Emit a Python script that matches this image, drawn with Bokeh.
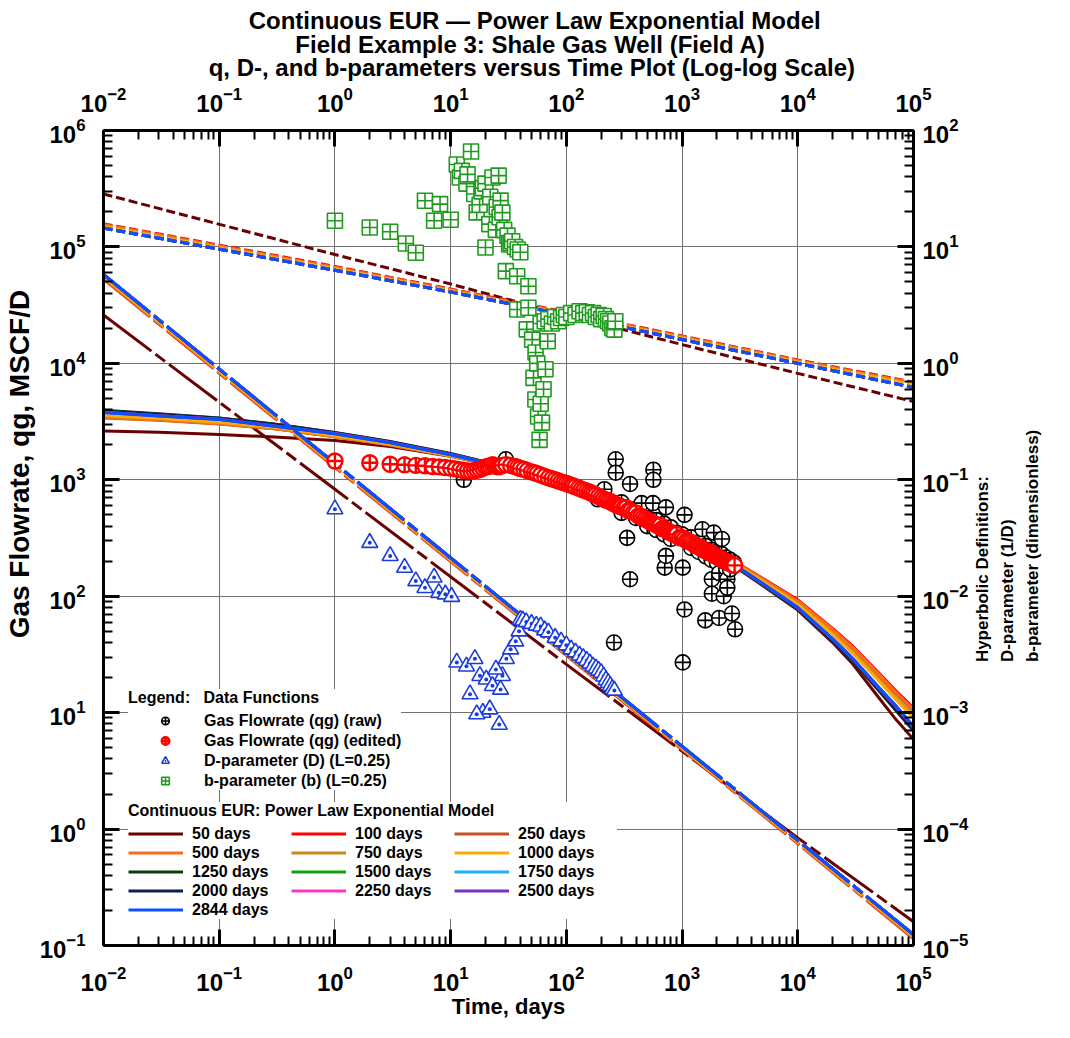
import math
from bokeh.plotting import figure
from bokeh.models import (Range1d, LogAxis, LogScale, FixedTicker, Legend, LegendItem, Title)
from bokeh.embed import file_html
from bokeh.resources import INLINE

# ---------------- model curves ----------------
model_labels = ["50 days", "100 days", "250 days", "500 days", "750 days", "1000 days",
                "1250 days", "1500 days", "1750 days", "2000 days", "2250 days", "2500 days", "2844 days"]
model_colors = ["#6b0000", "#ff0000", "#c8501e", "#ff6a1e", "#c88a1e", "#ffaa00",
                "#0b3a0b", "#10a010", "#20b0ff", "#0b1f55", "#ff33cc", "#7b2fbe", "#0a50ff"]

t_q = [0.01, 0.03, 0.1, 0.3, 1, 3, 10, 30, 100, 300, 1000, 2844, 5000, 10000, 20000, 30000, 50000, 70000, 100000]
q_50 = [2630, 2560, 2450, 2330, 2170, 1930, 1590, 1320, 950, 600, 335, 180, 123, 76, 40, 26, 13.5, 8.8, 5.9]
q_100 = [3450, 3280, 3050, 2760, 2350, 1990, 1600, 1260, 905, 600, 355, 200, 142, 93, 53, 37, 22, 15.5, 11]
q_250 = [3400, 3240, 3020, 2740, 2340, 1985, 1595, 1258, 900, 596, 351, 197, 139, 90, 51, 35.5, 21, 14.7, 10.4]
q_500 = [3420, 3255, 3035, 2750, 2345, 1988, 1597, 1259, 901, 597, 352, 198, 140, 91, 52, 36, 21.5, 15, 10.7]
q_750 = [3500, 3320, 3080, 2790, 2370, 2010, 1605, 1262, 898, 591, 346, 194, 136, 87, 48.5, 33, 19.5, 13.5, 9.5]
q_1000 = [3560, 3370, 3120, 2820, 2390, 2025, 1612, 1265, 897, 588, 342, 192, 134, 85, 47, 32, 18.8, 13, 9.0]
q_1250 = [3950, 3700, 3400, 3020, 2550, 2130, 1680, 1290, 893, 578, 330, 183, 125, 77, 41, 27.5, 15.5, 10.5, 7.0]
q_1500 = [3870, 3630, 3360, 2990, 2520, 2110, 1665, 1283, 893, 580, 332, 184, 126, 78, 42, 28, 16, 11, 7.2]
q_1750 = [3820, 3560, 3320, 2920, 2500, 2095, 1655, 1278, 892, 580, 333, 185, 127, 79, 42.5, 28.5, 16.2, 11.2, 7.4]
q_2000 = [3900, 3660, 3380, 3000, 2535, 2120, 1672, 1286, 893, 579, 331, 184, 125.5, 77.5, 41.5, 28, 15.8, 10.8, 7.1]
q_2250 = [3800, 3550, 3310, 2900, 2495, 2090, 1650, 1275, 892, 580, 334, 185.5, 127.5, 79.5, 42.8, 28.8, 16.4, 11.4, 7.5]
q_2500 = [3790, 3540, 3305, 2890, 2490, 2085, 1645, 1272, 891, 580, 334, 186, 128, 80, 43, 29, 16.5, 11.5, 7.6]
q_2844 = [3780, 3530, 3300, 2880, 2480, 2077, 1640, 1270, 890, 580, 335, 186, 128, 80, 43, 29, 16.5, 11.5, 7.6]

t_d = [0.01, 1, 100, 10000, 100000]
D_50 = [2.6, 0.083, 2.6e-3, 8.4e-5, 1.6e-5]
D_100 = [5.3, 0.128, 3.1e-3, 7.5e-5, 1.14e-5]
D_250 = [5.35, 0.129, 3.12e-3, 7.55e-5, 1.15e-5]
D_500 = [5.4, 0.130, 3.14e-3, 7.6e-5, 1.16e-5]
D_750 = [5.5, 0.132, 3.18e-3, 7.7e-5, 1.18e-5]
D_1000 = [5.55, 0.133, 3.2e-3, 7.75e-5, 1.19e-5]
D_1250 = [5.8, 0.138, 3.3e-3, 8.0e-5, 1.24e-5]
D_1500 = [5.78, 0.1378, 3.3e-3, 8.0e-5, 1.24e-5]
D_1750 = [5.76, 0.1375, 3.29e-3, 7.98e-5, 1.235e-5]
D_2000 = [5.8, 0.138, 3.3e-3, 8.0e-5, 1.24e-5]
D_2250 = [5.77, 0.1376, 3.29e-3, 7.99e-5, 1.238e-5]
D_2500 = [5.79, 0.1379, 3.3e-3, 8.0e-5, 1.24e-5]
D_2844 = [5.8, 0.138, 3.3e-3, 8.0e-5, 1.24e-5]

t_b = [0.01, 1, 10, 100, 1000, 10000, 100000]
b_50 = [28.5, 8.6, 4.8, 2.6, 1.45, 0.82, 0.47]
b_100 = [15.8, 6.8, 4.35, 2.75, 1.72, 1.07, 0.69]
b_250 = [15.6, 6.7, 4.3, 2.72, 1.70, 1.06, 0.68]
b_500 = [15.5, 6.65, 4.28, 2.70, 1.69, 1.05, 0.675]
b_750 = [15.2, 6.55, 4.22, 2.67, 1.67, 1.04, 0.665]
b_1000 = [15.0, 6.5, 4.2, 2.65, 1.65, 1.03, 0.655]
b_1250 = [14.5, 6.3, 4.1, 2.6, 1.6, 1.0, 0.62]
b_1500 = [14.55, 6.32, 4.1, 2.6, 1.6, 1.0, 0.622]
b_1750 = [14.6, 6.33, 4.11, 2.61, 1.61, 1.0, 0.625]
b_2000 = [14.5, 6.3, 4.1, 2.6, 1.6, 1.0, 0.62]
b_2250 = [14.55, 6.31, 4.1, 2.6, 1.6, 1.0, 0.621]
b_2500 = [14.5, 6.3, 4.1, 2.6, 1.6, 1.0, 0.62]
b_2844 = [14.5, 6.3, 4.1, 2.6, 1.6, 1.0, 0.62]

q_models = [q_50, q_100, q_250, q_500, q_750, q_1000, q_1250, q_1500, q_1750, q_2000, q_2250, q_2500, q_2844]
D_models = [D_50, D_100, D_250, D_500, D_750, D_1000, D_1250, D_1500, D_1750, D_2000, D_2250, D_2500, D_2844]
b_models = [b_50, b_100, b_250, b_500, b_750, b_1000, b_1250, b_1500, b_1750, b_2000, b_2250, b_2500, b_2844]

# ---------------- data functions ----------------
edited_t = [1, 2, 3, 4, 5, 6, 7, 8, 9, 10, 11, 12, 13, 14, 15, 16, 17, 18, 19, 20, 21, 22, 23, 24, 25,
            26, 27, 28, 30, 33, 36, 38, 40, 43, 46, 50, 53, 56, 60, 65, 70, 75, 80, 85, 90, 95, 100,
            105, 110, 115, 120, 128, 135, 142, 150, 158, 165, 172, 180, 190, 200, 210, 220, 230, 240,
            250, 260, 270, 280, 290, 300, 315, 330, 345, 360, 380, 400, 420, 440, 460, 480, 500, 520,
            540, 560, 580, 600, 625, 650, 675, 700, 725, 750, 775, 800, 825, 850, 875, 900, 950, 1000,
            1050, 1100, 1150, 1200, 1250, 1300, 1350, 1400, 1450, 1500, 1550, 1600, 1650, 1700, 1750,
            1800, 1850, 1900, 1950, 2000, 2050, 2100, 2150, 2200, 2250, 2300, 2350, 2400, 2450, 2500,
            2550, 2600, 2650, 2700, 2750, 2800, 2844]
edited_q = [1450, 1400, 1360, 1345, 1330, 1320, 1300, 1290, 1275, 1260, 1240, 1220, 1200, 1190, 1185,
            1195, 1210, 1230, 1260, 1290, 1300, 1320, 1350, 1330, 1300, 1290, 1310, 1330, 1350, 1330,
            1300, 1280, 1250, 1230, 1200, 1170, 1150, 1130, 1100, 1070, 1040, 1020, 1000, 980, 960,
            945, 930, 915, 900, 885, 870, 850, 830, 815, 800, 785, 770, 755, 740, 720, 700, 685, 670,
            660, 650, 635, 620, 610, 600, 592, 585, 572, 575, 545, 540, 525, 520, 490, 485, 472, 460,
            450, 440, 432, 425, 418, 410, 402, 405, 380, 380, 372, 365, 357, 350, 345, 340, 335, 340,
            318, 318, 310, 300, 295, 290, 282, 275, 270, 265, 260, 255, 250, 245, 243, 240, 236, 232,
            228, 225, 222, 220, 216, 213, 210, 208, 205, 203, 200, 198, 196, 195, 193, 192, 190, 188,
            186, 185, 184]

raw_t = [13, 30, 187, 213, 267, 267, 300, 300, 335, 355, 355, 258, 400, 400, 447, 500, 500, 560, 565,
         565, 600, 600, 700, 700, 708, 725, 725, 800, 800, 900, 1000, 1014, 1014, 1050, 1050, 1200,
         1200, 1400, 1400, 1500, 1500, 1587, 1600, 1600, 1800, 1800, 1810, 1810, 1880, 2000, 2000,
         2090, 2090, 2200, 2213, 2290, 2400, 2400, 2460, 2460, 2600, 2600, 2700, 2800, 2870]
raw_q = [1000, 1500, 680, 830, 1500, 1150, 640, 520, 317, 920, 140, 40, 560, 470, 630, 470, 400, 630,
         1220, 1000, 450, 370, 420, 340, 176, 580, 222, 390, 310, 350, 340, 176, 27, 77, 500, 320, 260,
         290, 240, 376, 252, 62, 270, 220, 250, 205, 140, 105, 352, 240, 195, 158, 65, 230, 310, 100,
         215, 175, 140, 118, 205, 170, 71, 195, 52]

dparam_t = [1, 2, 3, 4, 5, 6, 7.2, 7.9, 9, 10.2, 11.3, 13.7, 16.2, 14.7, 17.9, 20.3, 23, 27, 28, 24.6,
            19, 21.8, 26.3, 16.8, 30.3, 33, 36.5, 39, 40, 42, 45, 50, 55, 60, 65, 70, 80, 90, 100, 110,
            120, 130, 140, 150, 160, 170, 180, 190, 200, 210, 220, 230, 240, 250, 260]
dparam_v = [0.0559, 0.0288, 0.0222, 0.0176, 0.0135, 0.0118, 0.0145, 0.0107, 0.0104, 0.0099, 2.7e-3,
            2.5e-3, 2.9e-3, 1.44e-3, 2.07e-3, 1.93e-3, 1.7e-3, 1.58e-3, 2.07e-3, 2.35e-3, 1.0e-3,
            1.07e-3, 7.9e-4, 9.7e-4, 2.9e-3, 3.5e-3, 4.1e-3, 5.0e-3, 6.3e-3, 6.2e-3, 6.0e-3, 5.8e-3,
            5.6e-3, 5.5e-3, 5.1e-3, 4.9e-3, 4.4e-3, 4.1e-3, 3.8e-3, 3.5e-3, 3.3e-3, 3.1e-3, 2.95e-3,
            2.8e-3, 2.65e-3, 2.5e-3, 2.4e-3, 2.3e-3, 2.2e-3, 2.05e-3, 1.9e-3, 1.8e-3, 1.7e-3, 1.6e-3,
            1.55e-3]

bparam_t = [1, 2, 3, 4.1, 5, 6, 7.2, 8.1, 10, 11.3, 12, 12.5, 13.7, 14, 15, 16, 16.8, 17.8, 18.5, 19,
            20, 20, 21.6, 22, 23, 24.6, 25, 26, 26.5, 27, 28, 29, 30, 31, 32, 33, 34, 36, 37.6, 37.6,
            38, 40, 45.5, 47, 47, 50.6, 52, 54, 54.2, 56, 57, 58.7, 60, 61.5, 63.5, 66, 69, 60, 65, 70,
            75, 80, 85, 90, 95, 100, 110, 120, 130, 140, 150, 160, 170, 180, 190, 200, 210, 220, 230,
            240, 250, 260, 265]
bparam_v = [16.8, 14.7, 13.5, 10.7, 8.9, 24.9, 16.8, 23.3, 17.1, 51, 39.5, 45, 35, 42, 66, 28.5, 19.8,
            23, 30, 32, 35, 9.9, 15.7, 27, 39.5, 14, 22, 41, 18, 25, 19.7, 14, 6.2, 12.5, 10.5, 10.8,
            11.2, 10, 5.6, 2.9, 9.5, 9, 1.96, 4.6, 3.0, 1.6, 0.75, 0.49, 1.24, 1.0, 0.35, 0.22, 0.45,
            0.31, 0.6, 0.89, 1.55, 2.2, 2.3, 2.4, 2.2, 2.5, 2.3, 2.45, 2.6, 2.5, 2.7, 2.6, 2.8, 2.7,
            2.75, 2.6, 2.7, 2.5, 2.6, 2.4, 2.55, 2.4, 2.3, 2.2, 2.0, 1.95, 2.3]

# ---------------- axis ticks ----------------
x_major = [10.0 ** k for k in range(-2, 6)]
x_minor = [m * 10.0 ** k for k in range(-2, 5) for m in range(2, 10)]
yl_major = [10.0 ** k for k in range(-1, 7)]
yl_minor = [m * 10.0 ** k for k in range(-1, 6) for m in range(2, 10)]
yr_major = [10.0 ** k for k in range(-5, 3)]
yr_minor = [m * 10.0 ** k for k in range(-5, 2) for m in range(2, 10)]

title_lines = ["Continuous EUR \u2014 Power Law Exponential Model",
               "Field Example 3: Shale Gas Well (Field A)",
               "q, D-, and b-parameters versus Time Plot (Log-log Scale)"]
right_title_lines = ["Hyperbolic Definitions:", "D-parameter (1/D)", "b-parameter (dimensionless)"]

FONT = "Liberation Sans"
NB = "\u00a0"
ML, MR, MT, MB = 99, 130, 130, 77
FRAME_W, FRAME_H = 825, 815

p = figure(width=ML + FRAME_W + MR, height=MT + FRAME_H + MB,
           x_axis_type="log", y_axis_type="log",
           x_range=Range1d(1e-2, 1e5), y_range=Range1d(1e-1, 1e6),
           output_backend="svg", toolbar_location=None,
           min_border_left=ML, min_border_right=MR, min_border_top=MT, min_border_bottom=MB)
p.extra_y_ranges = {"right": Range1d(1e-5, 1e2)}
p.extra_y_scales = {"right": LogScale()}
p.outline_line_color = None
p.background_fill_color = "white"
p.border_fill_color = "white"


def style_axis(ax, ticks, minor, standoff):
    ax.ticker = FixedTicker(ticks=ticks, minor_ticks=minor)
    ax.axis_line_width = 3
    ax.axis_line_color = "black"
    ax.major_tick_in = 16
    ax.major_tick_out = 0
    ax.major_tick_line_width = 3
    ax.minor_tick_in = 9
    ax.minor_tick_out = 0
    ax.minor_tick_line_width = 2
    ax.major_label_text_font = FONT
    ax.major_label_text_font_style = "bold"
    ax.major_label_text_font_size = "24px"
    ax.major_label_text_color = "black"
    ax.major_label_standoff = standoff
    ax.axis_label_text_font = FONT
    ax.axis_label_text_font_style = "bold"
    ax.axis_label_text_color = "black"


bottom_ax = p.below[0]
style_axis(bottom_ax, x_major, x_minor, 20)
bottom_ax.axis_label = "Time, days"
bottom_ax.axis_label_text_font_size = "22px"
bottom_ax.axis_label_standoff = 0

left_ax = p.left[0]
style_axis(left_ax, yl_major, yl_minor, 18)
left_ax.axis_label = NB * 19 + "Gas Flowrate, qg, MSCF/D"
left_ax.axis_label_text_font_size = "28px"
left_ax.axis_label_standoff = 2

top_ax = LogAxis()
style_axis(top_ax, x_major, x_minor, 19)
p.add_layout(top_ax, "above")

right_ax = LogAxis(y_range_name="right")
style_axis(right_ax, yr_major, yr_minor, 9)
p.add_layout(right_ax, "right")

# bare axes on the right that only carry the three lines of the right axis title
for line, sd in zip(right_title_lines, [11, 3, 3]):
    ax = LogAxis(y_range_name="right", ticker=FixedTicker(ticks=[]))
    ax.axis_line_color = None
    ax.major_tick_line_color = None
    ax.minor_tick_line_color = None
    ax.major_tick_in = 0
    ax.major_tick_out = 0
    ax.minor_tick_in = 0
    ax.minor_tick_out = 0
    ax.major_label_standoff = 0
    ax.axis_label_text_font = FONT
    ax.axis_label_text_font_style = "bold"
    ax.axis_label_text_font_size = "17px"
    ax.axis_label_text_color = "black"
    ax.axis_label_standoff = sd
    props = ax.properties()
    pad = ""
    if "axis_label_align" in props:
        ax.axis_label_align = "start"
        pad = NB * 60
    if "axis_label_orientation" in props:
        ax.axis_label_orientation = math.pi / 2
    ax.axis_label = pad + line
    p.add_layout(ax, "right")


# centre each title line inside the block with no-break spaces (block nudged right)
def em_w(s):
    W = {' ': 278, ',': 278, '-': 333, '.': 278, '/': 278, '(': 333, ')': 333, ':': 333, '\u2014': 1000,
         'A': 722, 'C': 722, 'D': 722, 'E': 667, 'F': 611, 'G': 778, 'L': 611, 'M': 833, 'P': 667,
         'R': 722, 'S': 667, 'T': 611, 'U': 722, 'W': 944, 'a': 556, 'b': 611, 'c': 556, 'd': 611,
         'e': 556, 'g': 611, 'h': 611, 'i': 278, 'l': 278, 'm': 889, 'n': 611, 'o': 611, 'p': 611,
         'q': 611, 'r': 389, 's': 556, 't': 333, 'u': 611, 'v': 556, 'w': 778, 'x': 556, 'y': 556}
    return sum(W.get(c, 556) for c in s)


widest = max(em_w(s) for s in title_lines)
centred = [NB * (7 + int(round((widest - em_w(s)) / 2 / 278.0))) + s for s in title_lines]
p.add_layout(Title(text="\n".join(centred), align="center", text_font=FONT,
                   text_font_style="bold", text_font_size="24px", text_line_height=0.87,
                   text_color="black", standoff=5), "above")

for g in (p.xgrid[0], p.ygrid[0]):
    g.grid_line_color = "#707070"
    g.grid_line_width = 1

# ---------------- model lines ----------------
q_renderers = []
for lab, col, qv, dv, bv in zip(model_labels, model_colors, q_models, D_models, b_models):
    r = p.line(t_q, qv, line_color=col, line_width=3)
    q_renderers.append(r)
    p.line(t_d, dv, line_color=col, line_width=3, line_dash="60 5 12 5", y_range_name="right")
    p.line(t_b, bv, line_color=col, line_width=3, line_dash="9 4", y_range_name="right")

# ---------------- data markers ----------------
r_raw = p.scatter(raw_t, raw_q, marker="circle_cross", size=15, line_color="black", line_width=1.6,
                  fill_color="white")
r_edit = p.scatter(edited_t, edited_q, marker="circle_cross", size=15, line_color="#ff0000",
                   line_width=2.4, fill_color="white")
r_d = p.scatter(dparam_t, dparam_v, marker="triangle_dot", size=16, line_color="#1a3cdc",
                line_width=1.6, fill_color="white", y_range_name="right")
r_b = p.scatter(bparam_t, bparam_v, marker="square_cross", size=15, line_color="#1f9a1f",
                line_width=1.6, fill_color="white", y_range_name="right")

# ---------------- legends ----------------
common = dict(padding=6, glyph_height=19, label_height=19, title_standoff=4, margin=0,
              border_line_color=None, background_fill_color="white", background_fill_alpha=1.0,
              label_text_font=FONT, label_text_font_style="bold", label_text_font_size="16px",
              label_text_color="black",
              title_text_font=FONT, title_text_font_style="bold", title_text_font_size="16px",
              title_text_color="black")
leg1 = Legend(items=[LegendItem(label="Gas Flowrate (qg) (raw)", renderers=[r_raw]),
                     LegendItem(label="Gas Flowrate (qg) (edited)", renderers=[r_edit]),
                     LegendItem(label="D-parameter (D) (L=0.25)", renderers=[r_d]),
                     LegendItem(label="b-parameter (b) (L=0.25)", renderers=[r_b])],
              location=(25, 155), title="Legend:   Data Functions",
              glyph_width=74, label_standoff=2, spacing=1, **common)
p.add_layout(leg1)

leg2 = Legend(items=[LegendItem(label=lab, renderers=[r]) for lab, r in zip(model_labels, q_renderers)],
              location=(25, 26), title="Continuous EUR: Power Law Exponential Model",
              orientation="horizontal", ncols=3,
              glyph_width=55, label_standoff=9, label_width=99, spacing=0, **common)
p.add_layout(leg2)

open("out.html", "w").write(file_html(p, INLINE))
